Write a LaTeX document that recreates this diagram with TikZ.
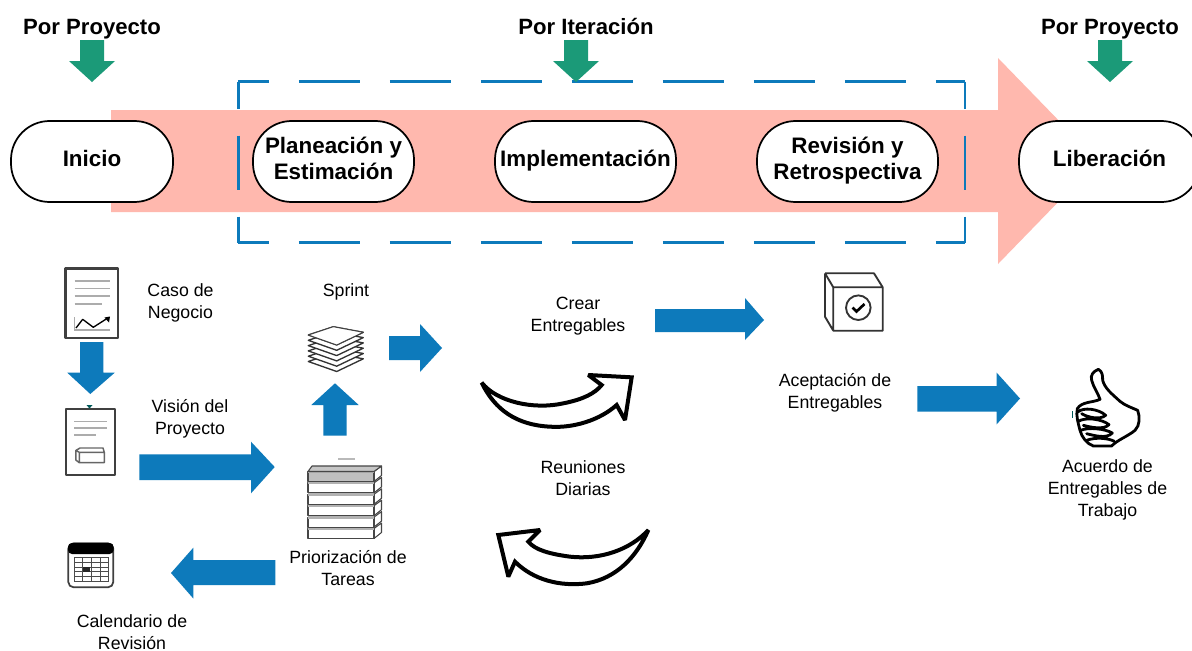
\documentclass[tikz,border=0pt]{standalone}
\usepackage{fontspec}
\setmainfont{Liberation Sans}
\definecolor{pinkA}{HTML}{FFB8AE}
\definecolor{greenA}{HTML}{1B9A78}
\definecolor{blueA}{HTML}{0D7ABB}
\definecolor{iconG}{HTML}{404040}
\newcommand{\lifted}[1]{\raisebox{2.2pt}{\begin{tabular}{@{}c@{}}#1\end{tabular}}}
\tikzset{
  phase/.style={draw=black,line width=1.3pt,fill=white,rounded corners=29pt,minimum height=60.75pt,inner sep=0pt,align=center,font=\fontsize{16.8pt}{19.5pt}\selectfont\bfseries},
  head/.style={inner sep=0pt,anchor=base,font=\fontsize{16.6pt}{19pt}\selectfont\bfseries},
  lab/.style={inner sep=0pt,align=center,font=\fontsize{13.3pt}{16.5pt}\selectfont},
  blockb/.style={fill=blueA,draw=none},
  blockg/.style={fill=greenA,draw=none},
  icon/.style={draw=iconG,line width=0.9pt,line join=round},
  thinline/.style={draw=gray!65,line width=1.2pt},
  swoosh/.style={draw=black,fill=white,line width=3pt,line join=miter,miter limit=3},
  zoomed/.style={x=0.25pt,y=-0.25pt},
  frameh/.style={draw=blueA,line width=2.2pt,dash pattern=on 45.75pt off 22.5pt,dash phase=22.9pt},
  framev/.style={draw=blueA,line width=2.2pt,dash pattern=on 40.5pt off 20.25pt,dash phase=20.25pt}
}
\begin{document}
\begin{tikzpicture}[x=0.75pt,y=-0.75pt]
\path[use as bounding box,clip] (0,0) rectangle (1192,650);
\fill[white] (0,0) rectangle (1192,650);
% main band
\fill[pinkA] (111,110) -- (998,110) -- (998,58) -- (1098,161) -- (998,264) -- (998,212) -- (111,212) -- cycle;
% dashed iteration frame
\draw[frameh] (238.3,81.7) -- (965,81.7);
\draw[frameh] (238.3,242.7) -- (965,242.7);
\draw[framev] (238.3,81.7) -- (238.3,242.7);
\draw[framev] (965,81.7) -- (965,242.7);
% green arrows
\foreach \c/\t in {92/40,576/40,1110/40}{
  \fill[greenA] (\c-12,\t) -- (\c+12,\t) -- (\c+12,\t+21) -- (\c+23,\t+21) -- (\c,\t+42) -- (\c-23,\t+21) -- (\c-12,\t+21) -- cycle;
}
% headings
\node[head] (h1) at (92,34) {Por Proyecto};
\node[head] (h2) at (586,34) {Por Iteración};
\node[head] (h3) at (1110,34) {Por Proyecto};
% phases
\node[phase,minimum width=121.5pt] (inicio) at (92,161.5) {\lifted{Inicio}};
\node[phase,minimum width=120.75pt] (plan) at (333.5,161.5) {\lifted{Planeación y\\Estimación}};
\node[phase,minimum width=135.75pt] (impl) at (585.5,161.5) {\lifted{Implementación}};
\node[phase,minimum width=135.75pt] (rev) at (847.5,161.5) {\lifted{Revisión y\\Retrospectiva}};
\node[phase,minimum width=135.75pt] (lib) at (1109.5,161.5) {\lifted{Liberación}};
% block arrows
\fill[blockb] (80,342) -- (103.3,342) -- (103.3,372.7) -- (114.7,372.7) -- (90.3,394) -- (67.3,372.7) -- (80,372.7) -- cycle;
\fill[blockb] (139.3,454.3) -- (251,454.3) -- (251,441.7) -- (274.7,467) -- (251,493.3) -- (251,480) -- (139.3,480) -- cycle;
\fill[blockb] (323.3,435.7) -- (323.3,405) -- (311.3,405) -- (335,383.3) -- (358.7,405) -- (346.7,405) -- (346.7,435.7) -- cycle;
\fill[blockb] (275.3,560) -- (193.3,560) -- (193.3,547.7) -- (171,573) -- (193.3,598.5) -- (193.3,585) -- (275.3,585) -- cycle;
\fill[blockb] (389,336) -- (420,336) -- (420,324) -- (442,348) -- (420,372) -- (420,360) -- (389,360) -- cycle;
\fill[blockb] (655,309) -- (745,309) -- (745,298) -- (764,320) -- (745,340) -- (745,332) -- (655,332) -- cycle;
\fill[blockb] (917.3,386) -- (996.7,386) -- (996.7,372.7) -- (1020,398.5) -- (996.7,424.3) -- (996.7,411.7) -- (917.3,411.7) -- cycle;
% document 1
\draw[icon,line width=1.6pt] (65.5,268.5) rectangle (118,338.3);
\foreach \y/\e in {281/109.5,288.5/109.5,296/109.5,304/102}{\draw[thinline] (74.5,\y) -- (\e,\y);}
\draw[thinline] (74.5,317) -- (74.5,330) -- (110,330);
\draw[black,line width=1pt,line join=round] (76,328) -- (82.7,319.3) -- (93.3,327.3) -- (107,318.5);
\fill[black] (110,316.5) -- (109,322.5) -- (104.5,317.5) -- cycle;
% document 2
\draw[icon,line width=1.6pt] (65.7,409) rectangle (115.3,475);
\fill[teal!70!black] (86.5,405) -- (92.5,405) -- (89.5,408.5) -- cycle;
\foreach \y/\e in {421.3/107,428/107,435/96}{\draw[thinline] (74,\y) -- (\e,\y);}
\draw[icon,draw=gray!80!black,line width=1.1pt] (79.3,452.3) rectangle (104.3,462.7)
  (79.3,452.3) -- (75.8,450.5) -- (80,448) -- (103,448) -- (104.3,452.3)
  (75.8,450.5) -- (75.8,460) -- (79.3,462.7);
% sprint stack
\foreach \d in {26.5,21.2,15.9,10.6,5.3,0}{
  \draw[icon,draw=gray!40!black,fill=white,line width=1pt] (333.3,326.7+\d) -- (363.3,332.3+\d) -- (336.7,345+\d) -- (308.3,335+\d) -- cycle;
}
\draw[icon,draw=gray!50!black,fill=white,line width=0.7pt] (333.3,326.7) -- (363.3,332.3) -- (336.7,345) -- (308.3,335) -- cycle;
% priorisation stack
\fill[gray!55] (338,457.5) rectangle (355,460);
\foreach \i/\c in {5/white,4/white,3/white,2/white,1/white,0/gray!50}{
  \pgfmathsetmacro{\yy}{471.5+\i*11.4}
  \draw[icon,draw=gray!55!black,line width=0.8pt,fill=white] (374,\yy) -- (381.5,\yy-5.5) -- (381.5,\yy+4) -- (374,\yy+10) -- cycle;
  \draw[icon,draw=gray!55!black,line width=0.8pt,fill=\c] (308,\yy) -- (374,\yy) -- (374,\yy+10) -- (308,\yy+10) -- cycle;
  \fill[gray!60] (308,\yy-1) rectangle (374,\yy+1.5);
}
\draw[icon,draw=gray!55!black,line width=0.8pt,fill=gray!45] (308,471.5) -- (312,466) -- (381.5,466) -- (374,471.5) -- cycle;
% calendar
\draw[draw=iconG,line width=1.3pt,rounded corners=4pt,fill=white] (68.3,543.3) rectangle (113.3,587.3);
\fill[black,rounded corners=3pt] (68,543) -- (113.6,543) -- (113.6,554) -- (68,554) -- cycle;
\foreach \x in {74,82.5,91,100,108.3}{\draw[draw=gray!60!black,line width=0.7pt] (\x,557.3) -- (\x,581.7);}
\foreach \y in {557.3,562.2,567,571.9,576.8,581.7}{\draw[draw=gray!60!black,line width=0.7pt] (74,\y) -- (108.3,\y);}
\fill[gray!30!black] (82.7,566.7) rectangle (90,571.7);
% box with check
\draw[icon,line width=1.4pt,draw=black!80] (833.3,287.3) rectangle (882.7,330.7)
  (825,273.3) -- (874,273.3) -- (882.7,287.3)
  (825,273.3) -- (833.3,287.3)
  (825,273.3) -- (825,316.7) -- (833.3,330.7);
\draw[black!80,line width=1.4pt] (858.3,307.7) circle (12.3);
\draw[black,line width=2pt] (852.5,307.5) -- (856.5,311.5) -- (864.5,304);
% swooshes
\begin{scope}[shift={(460,360)}]
\begin{scope}[zoomed]
\draw[swoosh] (65,68) .. controls (110,125) and (220,150) .. (310,130) .. controls (370,118) and (405,100) .. (425,75)
  -- (385,45) -- (515,52) -- (495,180) -- (470,135)
  .. controls (420,180) and (340,205) .. (270,200) .. controls (170,195) and (105,150) .. (65,68) -- cycle;
\draw[swoosh] (565,510) .. controls (510,570) and (420,600) .. (330,590) .. controls (270,582) and (225,570) .. (205,545)
  -- (240,510) -- (115,525) -- (145,650) -- (165,605)
  .. controls (220,660) and (300,680) .. (380,670) .. controls (470,655) and (530,590) .. (565,510) -- cycle;
\end{scope}
\end{scope}
% thumb
\begin{scope}[shift={(1065,362)}]
\begin{scope}[zoomed]
\draw[black,fill=white,line width=2.1pt,line join=round,line cap=round]
  (100,22) .. controls (85,28) and (75,40) .. (80,55) .. controls (85,75) and (100,95) .. (105,112)
  .. controls (85,122) and (50,118) .. (37,140) .. controls (32,160) and (40,185) .. (45,205)
  .. controls (50,225) and (65,245) .. (85,252) -- (140,252)
  .. controls (155,235) and (190,222) .. (210,205) .. controls (225,190) and (225,165) .. (218,145)
  .. controls (195,135) and (180,130) .. (165,118) .. controls (140,95) and (120,80) .. (113,55)
  .. controls (113,40) and (112,28) .. (100,22) -- cycle;
\draw[black,line width=2.1pt,line cap=round,line join=round]
  (38,150) .. controls (55,135) and (100,140) .. (122,160) .. controls (105,175) and (65,165) .. (50,155)
  (40,178) .. controls (60,165) and (110,170) .. (132,188) .. controls (115,205) and (75,195) .. (55,190)
  (47,205) .. controls (70,195) and (120,200) .. (142,213) .. controls (125,232) and (85,220) .. (65,215)
  (65,235) .. controls (90,225) and (130,228) .. (148,238);
\fill[teal!70!black] (22,148) rectangle (25,168);
\end{scope}
\end{scope}
% labels
\node[lab] (caso) at (180.5,302.5) {Caso de\\Negocio};
\node[lab] (sprint) at (346,291.5) {Sprint};
\node[lab] (vision) at (190,419) {Visión del\\Proyecto};
\node[lab] (crear) at (578,316) {Crear\\Entregables};
\node[lab] (acept) at (835,393) {Aceptación de\\Entregables};
\node[lab] (reun) at (583,478) {Reuniones\\Diarias};
\node[lab] (prior) at (348,568) {Priorización de\\Tareas};
\node[lab] (cal) at (132,632) {Calendario de\\Revisión};
\node[lab] (acu) at (1107.5,490) {Acuerdo de\\Entregables de\\Trabajo};
\end{tikzpicture}
\end{document}
